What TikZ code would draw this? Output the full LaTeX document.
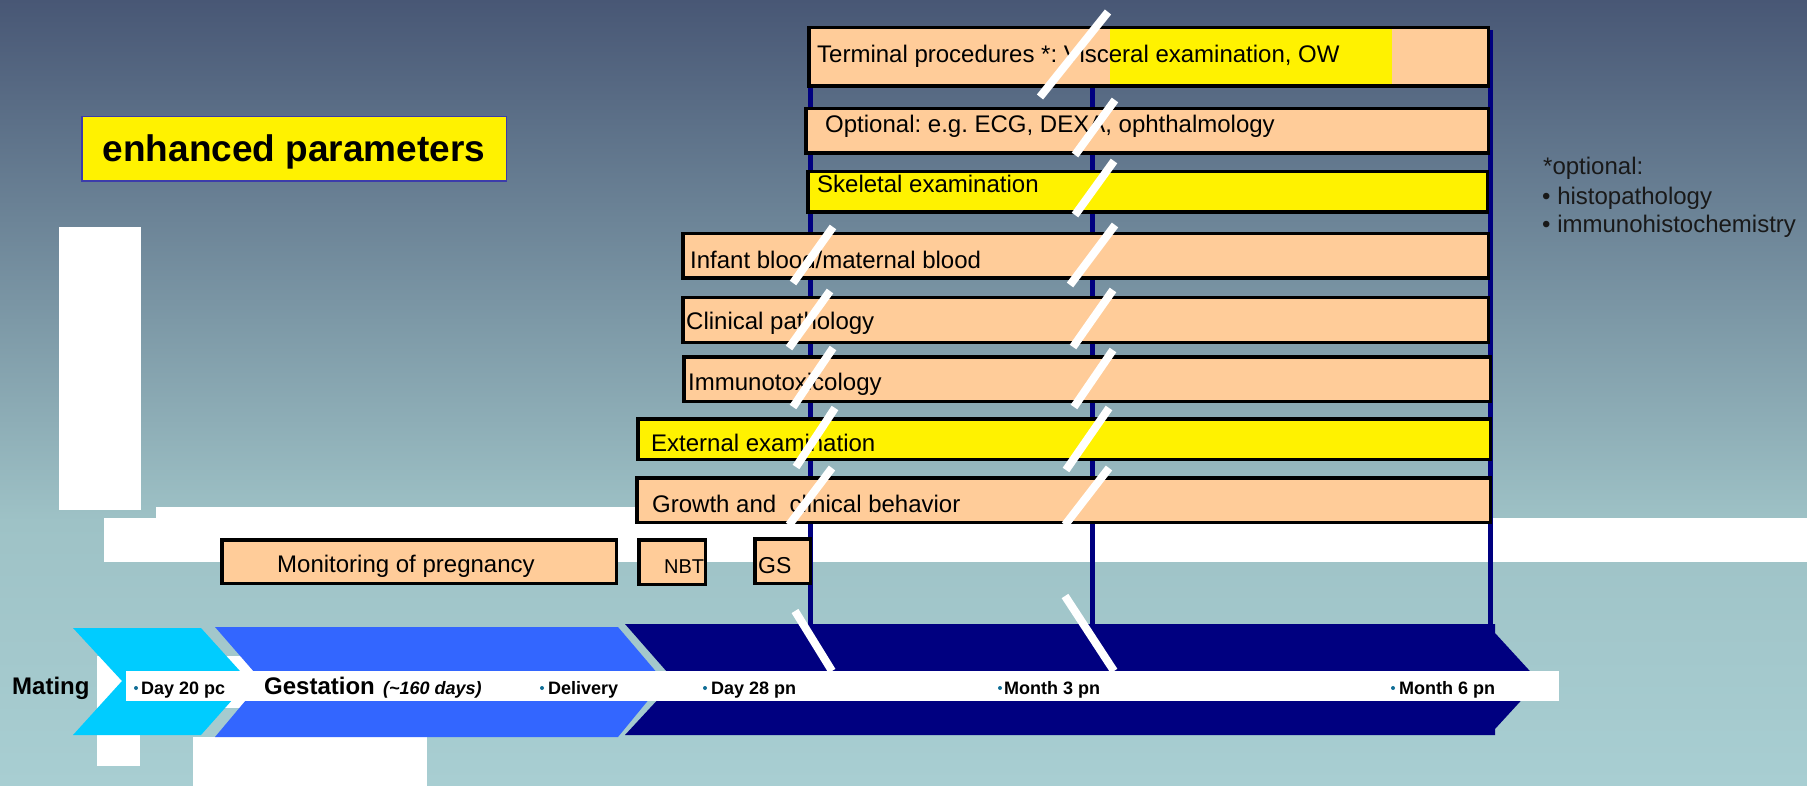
\documentclass[tikz,border=0pt]{standalone}
\usepackage{fontspec}
\setmainfont{Liberation Sans}
\frenchspacing
\newcommand\pxsize[1]{\fontsize{#1pt}{#1pt}\selectfont}
\definecolor{peach}{RGB}{255,204,153}
\definecolor{navyblue}{RGB}{0,0,128}
\definecolor{cyanchev}{RGB}{0,204,255}
\definecolor{bluechev}{RGB}{51,102,255}
\definecolor{bgtop}{RGB}{72,87,117}
\definecolor{bgmid}{RGB}{158,194,198}
\definecolor{bgbot}{RGB}{168,206,210}
\definecolor{dotblue}{RGB}{16,110,150}
\definecolor{frameblue}{RGB}{60,60,170}
\begin{document}
\begin{tikzpicture}[x=1pt,y=-1pt,
  pbox/.style={draw=black, line width=3.5pt, fill=peach, anchor=north west, inner sep=0pt},
  ybox/.style={pbox, fill=yellow},
  btext/.style={anchor=base west, inner sep=0pt, font=\pxsize{24}},
  tl/.style={anchor=base west, inner sep=0pt, font=\bfseries\pxsize{18}},
  big/.style={anchor=base west, inner sep=0pt, font=\bfseries\pxsize{24}},
  brk/.style={draw=white, line width=8pt},
  vline/.style={draw=navyblue, line width=5pt},
  tdot/.style={circle, fill=dotblue, inner sep=0pt, minimum size=4pt},
  note/.style={anchor=base west, inner sep=0pt, font=\pxsize{24}, text=black!90}
]
\useasboundingbox (0,0) rectangle (1807,786);

% background
\shade[top color=bgtop, bottom color=bgmid] (0,0) rectangle (1807,521);
\shade[top color=bgmid, bottom color=bgbot] (0,520) rectangle (1807,786);

% white panels
\fill[white] (59,227) rectangle (141,510);
\fill[white] (156,507) rectangle (1490,562);
\fill[white] (104,518) rectangle (1807,562);
\fill[white] (97,656) rectangle (262,708);
\fill[white] (97,735) rectangle (140,766);
\fill[white] (193,737) rectangle (427,786);

% guide lines for the postnatal time points
\draw[vline] (810,30) -- (810,630);
\draw[vline] (1092,30) -- (1092,630);
\draw[vline] (1490,30) -- (1490,630);

% timeline chevrons
\fill[cyanchev] (73,628) -- (201,628) -- (249,681) -- (201,735) -- (73,735) -- (122,681) -- cycle;
\fill[bluechev] (215,627) -- (618,627) -- (664,681) -- (618,737) -- (215,737) -- (262,681) -- cycle;
\fill[navyblue] (625,624) -- (1495,624) -- (1495,633) -- (1539,681) -- (1495,729) -- (1495,735) -- (625,735) -- (675,681) -- cycle;
\fill[white] (126,671) rectangle (1559,701);

% timeline labels
\node[big] (mating) at (12,694) {Mating};
\node[tdot] (d1) at (136,688) {};
\node[tl] (day20) at (141,694) {Day 20 pc};
\node[big] (gest) at (264,694) {Gestation};
\node[anchor=base west, inner sep=0pt, font=\bfseries\itshape\pxsize{18}] (gestdays) at (383,694) {(\textasciitilde160 days)};
\node[tdot] (d2) at (542,688) {};
\node[tl] (deliv) at (548,694) {Delivery};
\node[tdot] (d3) at (705,688) {};
\node[tl] (day28) at (711,694) {Day 28 pn};
\node[tdot] (d4) at (1000,688) {};
\node[tl] (m3) at (1004,694) {Month 3 pn};
\node[tdot] (d5) at (1393,688) {};
\node[tl] (m6) at (1399,694) {Month 6 pn};

% parameter boxes
\node[pbox, minimum width=679.5pt, minimum height=58.5pt] (term) at (807,26) {};
\fill[yellow] (1110,29.5) rectangle (1392,84.5);
\node[btext] (termt) at (817,63) {Terminal procedures *: Visceral examination, OW};

\node[pbox, minimum width=682.5pt, minimum height=44.5pt] (opt) at (804,107) {};
\node[btext] (optt) at (825,133) {Optional: e.g. ECG, DEXA, ophthalmology};

\node[ybox, minimum width=679.5pt, minimum height=40.5pt] (skel) at (806,170) {};
\node[btext] (skelt) at (817,193) {Skeletal examination};

\node[pbox, minimum width=805.5pt, minimum height=44.5pt] (inf) at (681,232) {};
\node[btext] (inft) at (690,269) {Infant blood/maternal blood};

\node[pbox, minimum width=805.5pt, minimum height=44.5pt] (clin) at (681,296) {};
\node[btext] (clint) at (686,330) {Clinical pathology};

\node[pbox, minimum width=806.5pt, minimum height=44.5pt] (imm) at (682,355) {};
\node[btext] (immt) at (688,390) {Immunotoxicology};

\node[ybox, minimum width=852.5pt, minimum height=40.5pt] (ext) at (636,417) {};
\node[btext] (extt) at (651,451) {External examination};

\node[pbox, minimum width=853.5pt, minimum height=44.5pt] (grow) at (635,476) {};
\node[btext] (growt) at (652,512) {Growth and\ \ clinical behavior};

\node[pbox, minimum width=394.5pt, minimum height=43.5pt] (mon) at (220,538) {};
\node[btext] (mont) at (277,572) {Monitoring of pregnancy};

\node[pbox, minimum width=66.5pt, minimum height=44.5pt] (nbt) at (637,538) {};
\node[anchor=base west, inner sep=0pt, font=\pxsize{20}] (nbtt) at (664,573) {NBT};

\node[pbox, minimum width=55.5pt, minimum height=44.5pt] (gs) at (753,537) {};
\node[anchor=base west, inner sep=0pt, font=\pxsize{23}] (gst) at (758,573) {GS};

% time-axis break marks
\draw[brk] (1108,12) -- (1040,97);
\draw[brk] (1115,100) -- (1075,155);
\draw[brk] (1114,161) -- (1075,215);
\draw[brk] (833,227) -- (793,283);
\draw[brk] (1115,225) -- (1070,285);
\draw[brk] (830,291) -- (789,348);
\draw[brk] (1113,290) -- (1073,347);
\draw[brk] (833,348) -- (793,407);
\draw[brk] (1113,350) -- (1074,407);
\draw[brk] (835,408) -- (796,467);
\draw[brk] (1109,408) -- (1066,470);
\draw[brk] (832,468) -- (789,525);
\draw[brk] (1109,468) -- (1065,525);
\draw[brk] (795,611) -- (832,671);
\draw[brk] (1065,596) -- (1114,671);

% heading
\node[draw=frameblue, line width=1.5pt, fill=yellow, anchor=north west, minimum width=424.5pt, minimum height=64.5pt, inner sep=0pt] (head) at (81,116) {};
\node[anchor=base, inner sep=0pt, font=\bfseries\pxsize{37}] (headt) at (294,162) {enhanced parameters};

% footnote
\node[note] (n1) at (1543,175) {*optional:};
\node[note] (n2) at (1542,205) {• histopathology};
\node[note] (n3) at (1542,233) {• immunohistochemistry};
\end{tikzpicture}
\end{document}
